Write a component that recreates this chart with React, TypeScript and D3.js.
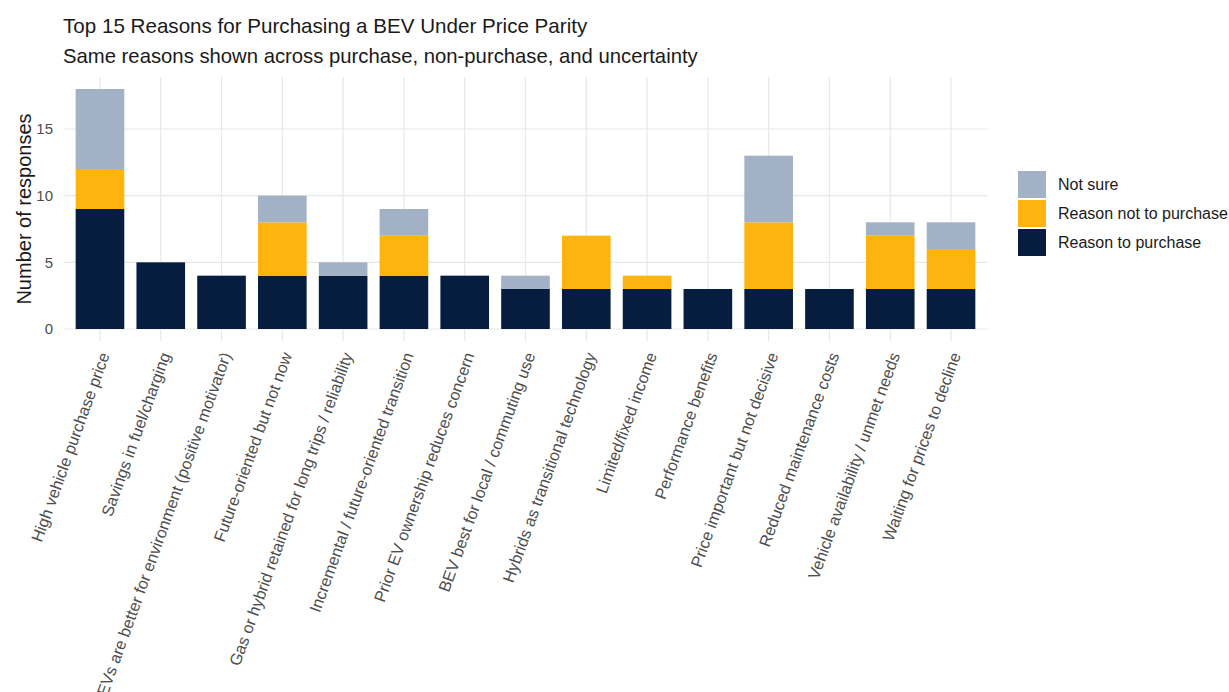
import * as d3 from "d3";

const reasons = [
  "High vehicle purchase price",
  "Savings in fuel/charging",
  "EVs are better for environment (positive motivator)",
  "Future-oriented but not now",
  "Gas or hybrid retained for long trips / reliability",
  "Incremental / future-oriented transition",
  "Prior EV ownership reduces concern",
  "BEV best for local / commuting use",
  "Hybrids as transitional technology",
  "Limited/fixed income",
  "Performance benefits",
  "Price important but not decisive",
  "Reduced maintenance costs",
  "Vehicle availability / unmet needs",
  "Waiting for prices to decline",
];

const reasonToPurchase = [9, 5, 4, 4, 4, 4, 4, 3, 3, 3, 3, 3, 3, 3, 3];
const reasonNotToPurchase = [3, 0, 0, 4, 0, 3, 0, 0, 4, 1, 0, 5, 0, 4, 3];
const notSure = [6, 0, 0, 2, 1, 2, 0, 1, 0, 0, 0, 5, 0, 1, 2];

const seriesKeys = ["Reason to purchase", "Reason not to purchase", "Not sure"];
const seriesColors = ["#061d40", "#ffb30f", "#a3b1c7"];
const yTicks = [0, 5, 10, 15];

const W = 1229;
const H = 692;
const left = 63.5;
const right = 987.5;
const top = 77;
const bottom = 341;

export default function App() {
  const rows = reasons.map((r, i) => ({
    reason: r,
    "Reason to purchase": reasonToPurchase[i],
    "Reason not to purchase": reasonNotToPurchase[i],
    "Not sure": notSure[i],
  }));
  const stack = d3.stack<any>().keys(seriesKeys)(rows);

  const maxTotal = d3.max(rows, (d: any) => d3.sum(seriesKeys, k => d[k])) as number;
  // ggplot-like 5% expansion on y
  const y = d3.scaleLinear().domain([-maxTotal * 0.05, maxTotal * 1.05]).range([bottom, top]);
  // discrete axis: 0.6 step on each side, bars 0.8 of step
  const x = d3.scaleBand().domain(reasons).range([left, right]).paddingInner(0.2).paddingOuter(0.2);
  const bw = x.bandwidth();
  const cx = (r: string) => (x(r) as number) + bw / 2;

  const grid = "#e8e8e8";
  const axisText = "#4d4d4d";

  return (
    <svg width={W} height={H} style={{ position: "absolute", left: 0, top: 0, background: "#fff" }}
      fontFamily="Liberation Sans, Arial, sans-serif">
      <text x={63} y={33} fontSize={20.6} fill="#1a1a1a">Top 15 Reasons for Purchasing a BEV Under Price Parity</text>
      <text x={63} y={63} fontSize={20.3} fill="#1a1a1a">Same reasons shown across purchase, non-purchase, and uncertainty</text>

      {yTicks.map(t => (
        <line key={"h" + t} x1={left} x2={right} y1={y(t)} y2={y(t)} stroke={grid} strokeWidth={1.2} />
      ))}
      {reasons.map(r => (
        <line key={"v" + r} x1={cx(r)} x2={cx(r)} y1={top} y2={bottom} stroke={grid} strokeWidth={1.2} />
      ))}

      {stack.map((s, si) => (
        <g key={s.key} fill={seriesColors[si]}>
          {s.map((d, i) => (
            d[1] - d[0] > 0 ? (
              <rect key={i} x={cx(reasons[i]) - bw / 2} width={bw} y={y(d[1])} height={y(d[0]) - y(d[1])} />
            ) : null
          ))}
        </g>
      ))}

      {yTicks.map(t => (
        <text key={"yl" + t} x={53} y={y(t)} dy="0.35em" textAnchor="end" fontSize={15} fill={axisText}>{t}</text>
      ))}
      <text transform={`translate(31,${(top + bottom) / 2}) rotate(-90)`} textAnchor="middle" fontSize={20} fill="#1a1a1a">
        Number of responses
      </text>

      {reasons.map(r => (
        <text key={"xl" + r} transform={`translate(${cx(r) + 10},355) rotate(-70)`} textAnchor="end" fontSize={16.3} fill={axisText}>
          {r}
        </text>
      ))}

      {[...seriesKeys].reverse().map((k, i) => {
        const ci = seriesKeys.indexOf(k);
        const ky = 171 + i * 29;
        return (
          <g key={"lg" + k}>
            <rect x={1018} y={ky} width={28} height={27} fill={seriesColors[ci]} />
            <text x={1058} y={ky + 13.5} dy="0.35em" fontSize={16} fill="#1a1a1a">{k}</text>
          </g>
        );
      })}
    </svg>
  );
}
